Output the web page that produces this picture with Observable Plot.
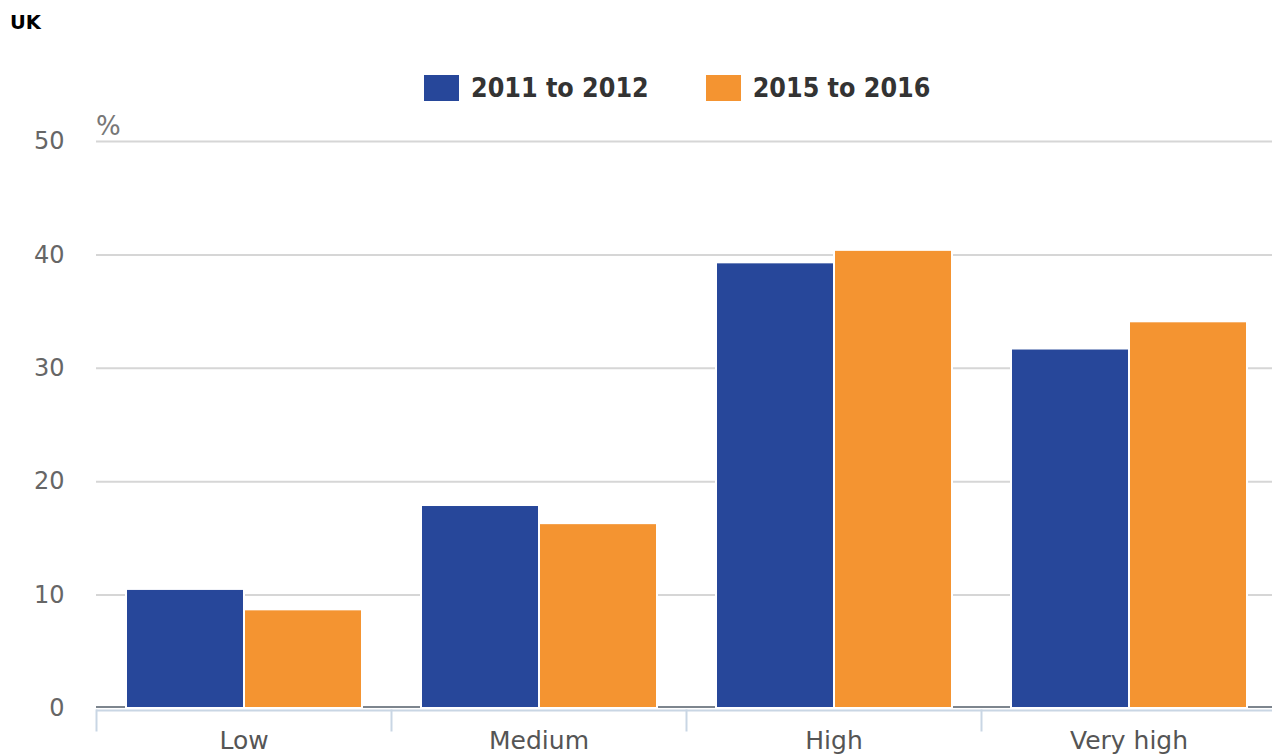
<!DOCTYPE html>
<html><head><meta charset="utf-8">
<script src="https://cdn.jsdelivr.net/npm/d3@7"></script>
<script src="https://cdn.jsdelivr.net/npm/@observablehq/plot@0.6"></script>
<style>
html,body{margin:0;background:#fff;overflow:hidden;}
#wrap{position:relative;width:1272px;height:754px;overflow:hidden;font-family:"DejaVu Sans",sans-serif;}
#title{position:absolute;left:10px;top:13px;font-weight:bold;font-size:19.5px;color:#000;line-height:1;}
#legend{position:absolute;top:72px;left:424px;display:flex;align-items:center;font-family:"DejaVu Sans Condensed","DejaVu Sans",sans-serif;font-weight:bold;font-size:26.6px;color:#333;}
.item{display:flex;align-items:center;margin-right:57px;}
.sw{width:35px;height:26px;margin-right:12px;}
#unit{position:absolute;left:96px;top:113px;font-size:26px;color:#777;line-height:1;}
#chart{position:absolute;left:0;top:0;width:1276px;}
#chart svg{max-width:none !important;}
</style></head>
<body>
<div id="wrap">
<div id="chart"></div>
<div id="title">UK</div>
<div id="legend"></div>
<div id="unit">%</div>
</div>
<script>
const categories = ["Low", "Medium", "High", "Very high"];
const series = ["2011 to 2012", "2015 to 2016"];
const values2011 = [10.5, 17.9, 39.3, 31.7];
const values2015 = [8.7, 16.3, 40.4, 34.1];
const colors = ["#27479a", "#f49431"];
const yTicks = [0, 10, 20, 30, 40, 50];

const data = [];
categories.forEach((c, i) => {
  data.push({category: c, series: series[0], value: values2011[i]});
  data.push({category: c, series: series[1], value: values2015[i]});
});

const legend = document.getElementById("legend");
series.forEach((s, i) => {
  const it = document.createElement("div");
  it.className = "item";
  const sw = document.createElement("div");
  sw.className = "sw";
  sw.style.background = colors[i];
  const t = document.createElement("span");
  t.textContent = s;
  it.appendChild(sw); it.appendChild(t);
  legend.appendChild(it);
});

const chart = Plot.plot({
  width: 1276,
  height: 754,
  marginLeft: 96,
  marginRight: 0,
  marginTop: 141,
  marginBottom: 46,
  style: {fontFamily: "DejaVu Sans, sans-serif", background: "#fff", maxWidth: "none"},
  fx: {domain: categories, padding: 0, label: null},
  x: {domain: series, paddingInner: 0, paddingOuter: 0.25, axis: null, label: null},
  y: {domain: [0, 50], ticks: yTicks, label: null},
  color: {domain: series, range: colors},
  marks: [
    Plot.gridY(yTicks.filter(d => d > 0), {stroke: "#d6d6d6", strokeOpacity: 1, strokeWidth: 2}),
    Plot.ruleY([0], {stroke: "#c9d6e4", strokeWidth: 2, dy: 2}),
    Plot.ruleY([0], {stroke: "#7d858e", strokeWidth: 2, dy: -1.5}),
    Plot.frame({anchor: "left", stroke: "#c9d6e4", strokeWidth: 2, insetTop: 569, insetBottom: -22}),
    Plot.barY(data, {fx: "category", x: "series", y: "value", fill: "series", stroke: "#fff", strokeWidth: 2}),
    Plot.axisY({ticks: yTicks, tickSize: 0, tickPadding: 32, fontSize: 24, color: "#666", label: null, tickFormat: d => String(d)}),
    Plot.axisFx({anchor: "bottom", tickSize: 0, tickPadding: 23, fontSize: 25, color: "#555", label: null})
  ]
});
document.getElementById("chart").appendChild(chart);
</script>
</body></html>
